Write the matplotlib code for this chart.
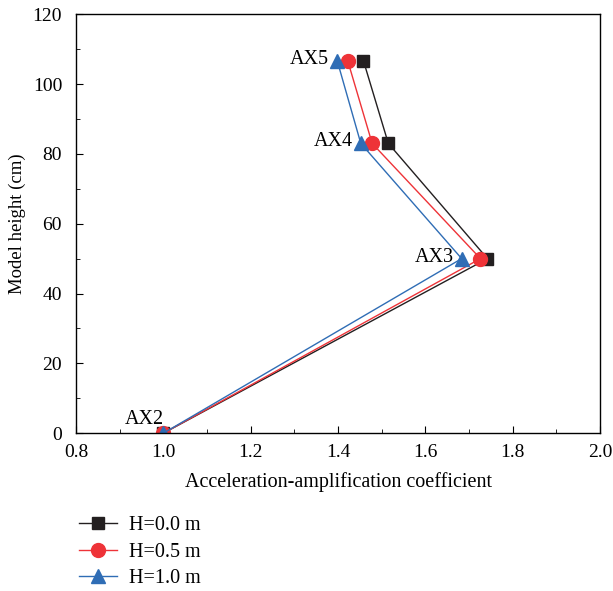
import matplotlib
matplotlib.use("Agg")
import matplotlib.pyplot as plt
from matplotlib.ticker import MultipleLocator

plt.rcParams['font.family'] = ['Liberation Serif', 'DejaVu Serif']

heights = [0, 50, 83, 106.7]
labels = ['AX2', 'AX3', 'AX4', 'AX5']
h00 = [1.0, 1.742, 1.515, 1.458]
h05 = [1.0, 1.726, 1.478, 1.422]
h10 = [1.0, 1.683, 1.452, 1.398]
series_names = ['H=0.0 m', 'H=0.5 m', 'H=1.0 m']

fig = plt.figure(figsize=(6.13, 5.91), dpi=100)
ax = fig.add_axes([0.124, 0.267, 0.855, 0.709])

ax.plot(h00, heights, color='#231f20', marker='s', ms=9, lw=1.0, label=series_names[0])
ax.plot(h05, heights, color='#ee3338', marker='o', ms=10, lw=1.0, label=series_names[1])
ax.plot(h10, heights, color='#2f6db5', marker='^', ms=10.5, lw=1.0, label=series_names[2])

for i, lab in enumerate(labels):
    if i == 0:
        ax.annotate(lab, (h10[i], heights[i]), xytext=(-14, 3), textcoords='offset points',
                    ha='center', va='bottom', fontsize=14.5)
    else:
        ax.annotate(lab, (h10[i], heights[i]), xytext=(-6, 1), textcoords='offset points',
                    ha='right', va='center', fontsize=14.5)

ax.set_xlim(0.8, 2.0)
ax.set_ylim(0, 120)
ax.xaxis.set_major_locator(MultipleLocator(0.2))
ax.xaxis.set_minor_locator(MultipleLocator(0.1))
ax.yaxis.set_major_locator(MultipleLocator(20))
ax.yaxis.set_minor_locator(MultipleLocator(10))
ax.tick_params(which='both', direction='in', labelsize=14)
ax.tick_params(axis='x', which='major', length=5, pad=8)
ax.tick_params(axis='y', which='major', length=5, pad=10)
ax.tick_params(which='minor', length=3)
ax.xaxis.set_major_formatter(matplotlib.ticker.FormatStrFormatter('%.1f'))
ax.set_xlabel('Acceleration-amplification coefficient', fontsize=14.5, labelpad=8)
ax.set_ylabel('Model height (cm)', fontsize=13.5, labelpad=5)
for s in ax.spines.values():
    s.set_linewidth(1.0)

fig.legend(loc='upper left', bbox_to_anchor=(0.115, 0.14), frameon=False,
           fontsize=14.5, handlelength=1.9, handletextpad=0.6, labelspacing=0.35, borderaxespad=0)

fig.savefig('out.png', dpi=100)
